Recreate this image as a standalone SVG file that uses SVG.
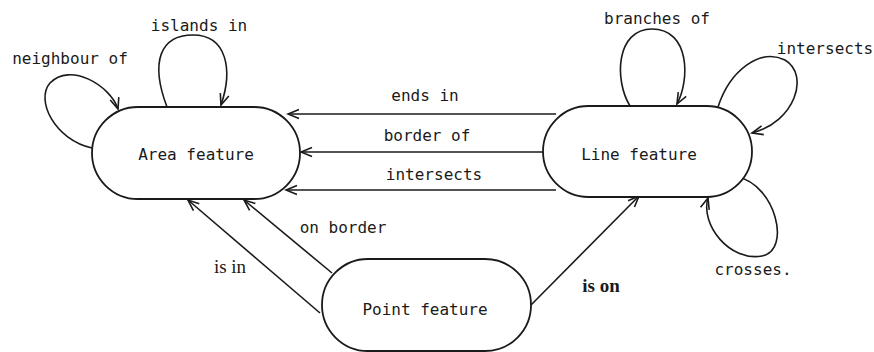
<svg xmlns="http://www.w3.org/2000/svg" width="874" height="352" viewBox="0 0 874 352">
<style>
.node{fill:#fff;stroke:#1a1a1a;stroke-width:1.8}
.edge{fill:none;stroke:#1a1a1a;stroke-width:1.6;marker-end:url(#arr)}
.t{font-family:"DejaVu Sans Mono","Liberation Mono",monospace;font-size:16px;fill:#1a1a1a}
.s{font-family:"Liberation Serif",serif;font-size:19px;fill:#1a1a1a}
</style>
<defs>
<marker id="arr" viewBox="-12 -6 14 12" refX="0" refY="0" markerWidth="14" markerHeight="12" markerUnits="userSpaceOnUse" orient="auto">
<path d="M-11,-4.5 L0,0 L-11,4.5" fill="none" stroke="#1a1a1a" stroke-width="1.6"/>
</marker>
</defs>
<rect width="874" height="352" fill="#fff"/>
<g id="connectors">
<path class="edge" d="M167,107 C150,62 160,35 193,35 C227,35 233,70 221,105"/>
<path class="edge" d="M92,148 C55,140 35,100 50,83 C70,62 110,85 118,109"/>
<path class="edge" d="M630,106 C614,80 616,29 652,29 C690,29 690,80 677,104"/>
<path class="edge" d="M718,107 C730,70 760,48 785,60 C810,75 795,122 752,133"/>
<path class="edge" d="M738,177 C775,185 792,250 762,256 C730,262 700,225 708,198"/>
<path class="edge" d="M556,114 L288,114"/>
<path class="edge" d="M543,152 L301,152"/>
<path class="edge" d="M556,190 L286,190"/>
<path class="edge" d="M320,313 L188,200"/>
<path class="edge" d="M332,273 L244,200"/>
<path class="edge" d="M531,305 L639,196"/>
</g>
<g id="area">
<rect class="node" x="92" y="107" width="208" height="92" rx="46" ry="46"/>
<text class="t" x="196" y="160" text-anchor="middle">Area feature</text>
</g>
<g id="line">
<rect class="node" x="543" y="106" width="209" height="91" rx="45.5" ry="45.5"/>
<text class="t" x="639" y="160" text-anchor="middle">Line feature</text>
</g>
<g id="point">
<rect class="node" x="322" y="259" width="209" height="92" rx="46" ry="46"/>
<text class="t" x="425" y="315" text-anchor="middle">Point feature</text>
</g>
<g id="labels">
<text class="t" x="70" y="64" text-anchor="middle">neighbour of</text>
<text class="t" x="199" y="31" text-anchor="middle">islands in</text>
<text class="t" x="657" y="24" text-anchor="middle">branches of</text>
<text class="t" x="825" y="54" text-anchor="middle">intersects</text>
<text class="t" x="753" y="275" text-anchor="middle">crosses.</text>
<text class="t" x="425" y="101" text-anchor="middle">ends in</text>
<text class="t" x="427" y="141" text-anchor="middle">border of</text>
<text class="t" x="434" y="180" text-anchor="middle">intersects</text>
<text class="t" x="343" y="233" text-anchor="middle">on border</text>
<text class="s" x="230" y="273" text-anchor="middle">is in</text>
<text class="s" x="601" y="292" text-anchor="middle" font-weight="bold">is on</text>
</g>
</svg>
